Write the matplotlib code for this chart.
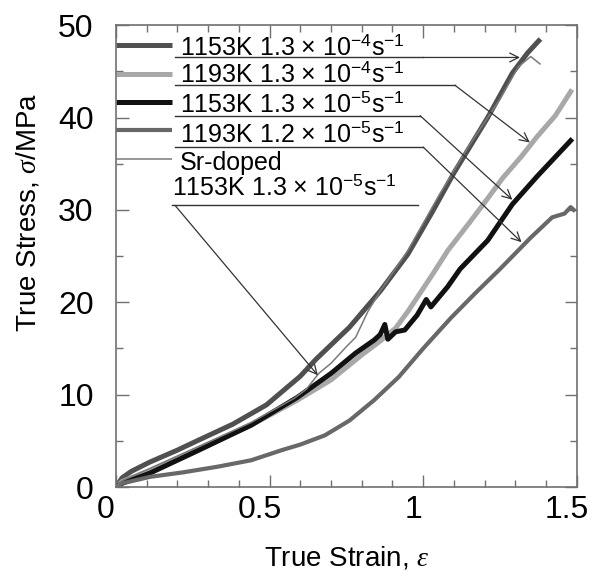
import matplotlib
matplotlib.use("Agg")
import matplotlib.pyplot as plt
import matplotlib.transforms as mtransforms
from matplotlib.ticker import MultipleLocator, FormatStrFormatter

plt.rcParams['font.family'] = ['Liberation Sans', 'DejaVu Sans']
plt.rcParams['mathtext.fontset'] = 'custom'
plt.rcParams['mathtext.rm'] = 'Liberation Sans'
plt.rcParams['mathtext.it'] = 'Liberation Serif:italic'
plt.rcParams['mathtext.bf'] = 'Liberation Sans:bold'

# true strain / true stress
strain_1153_4 = [0, 0.02, 0.05, 0.11, 0.20, 0.27, 0.38, 0.49, 0.60, 0.65, 0.76, 0.86, 0.95,
                 1.03, 1.10, 1.21, 1.29, 1.34, 1.376]
stress_1153_4 = [0, 1.0, 1.7, 2.7, 4.0, 5.1, 6.8, 8.9, 12.0, 13.8, 17.3, 21.2, 25.2,
                 29.8, 34.0, 40.0, 44.8, 47.0, 48.3]

strain_1193_4 = [0, 0.02, 0.11, 0.27, 0.44, 0.59, 0.70, 0.80, 0.86, 0.91, 0.95, 1.03, 1.08,
                 1.15, 1.20, 1.26, 1.32, 1.37, 1.43, 1.48]
stress_1193_4 = [0, 0.6, 1.8, 4.2, 6.7, 9.4, 11.6, 14.3, 15.8, 17.2, 19.0, 23.0, 25.6,
                 28.6, 30.8, 33.5, 35.8, 37.9, 40.2, 42.8]

strain_1153_5 = [0, 0.02, 0.11, 0.27, 0.44, 0.59, 0.70, 0.78, 0.84, 0.86, 0.875, 0.885, 0.91,
                 0.94, 0.98, 1.01, 1.025, 1.08, 1.12, 1.21, 1.29, 1.37, 1.48]
stress_1153_5 = [0, 0.4, 1.5, 4.0, 6.7, 9.7, 12.3, 14.5, 15.9, 16.5, 17.6, 16.0, 16.8,
                 17.0, 18.6, 20.3, 19.5, 21.7, 23.6, 26.7, 30.6, 33.6, 37.5]

strain_1193_5 = [0, 0.02, 0.11, 0.22, 0.33, 0.44, 0.54, 0.60, 0.68, 0.76, 0.84, 0.92, 1.00,
                 1.09, 1.17, 1.25, 1.35, 1.42, 1.46, 1.48, 1.49]
stress_1193_5 = [0, 0.4, 1.1, 1.6, 2.2, 2.9, 4.0, 4.6, 5.6, 7.2, 9.4, 11.9, 15.0,
                 18.3, 21.0, 23.6, 27.0, 29.2, 29.6, 30.3, 30.0]

strain_sr = [0, 0.02, 0.11, 0.27, 0.44, 0.58, 0.62, 0.66, 0.70, 0.75, 0.78, 0.82, 0.86,
             0.95, 1.05, 1.15, 1.25, 1.31, 1.35, 1.38]
stress_sr = [0, 0.7, 2.0, 4.4, 7.0, 9.6, 10.6, 12.3, 13.4, 15.2, 16.2, 19.0, 21.2,
             25.6, 31.5, 37.0, 42.0, 45.5, 46.6, 45.8]

labels = ['1153K 1.3 × 10$^{-4}$s$^{-1}$',
          '1193K 1.3 × 10$^{-4}$s$^{-1}$',
          '1153K 1.3 × 10$^{-5}$s$^{-1}$',
          '1193K 1.2 × 10$^{-5}$s$^{-1}$',
          'Sr-doped\n1153K 1.3 × 10$^{-5}$s$^{-1}$']

series = [(strain_1153_4, stress_1153_4, '#505050', 3.6),
          (strain_1193_4, stress_1193_4, '#a8a8a8', 3.6),
          (strain_1153_5, stress_1153_5, '#111111', 3.6),
          (strain_1193_5, stress_1193_5, '#686868', 3.0),
          (strain_sr, stress_sr, '#7a7a7a', 1.1)]

# hand-drawn legend layout: sample line y, text baseline y, underline y, corner x, arrow tip
sample_y = [47.9, 44.7, 41.7, 38.7, 35.5]
text_y = [46.8, 43.8, 40.6, 37.3, 31.6]
under_y = [46.5, 43.5, 40.2, 36.8, 30.5]
corner_x = [1.0, 1.103, 0.99, 1.0, 0.983]
tips = [(1.315, 46.5), (1.347, 37.3), (1.29, 31.1), (1.32, 26.5), (0.657, 12.1)]

fig = plt.figure(figsize=(6.04, 5.71), dpi=100)
ax = fig.add_axes([0.192, 0.147, 0.763, 0.809])

for x, y, c, lw in series:
    ax.plot(x, y, color=c, lw=lw, solid_joinstyle='round')

arrow_kw = dict(arrowstyle='->', color='#333333', lw=0.9, shrinkA=0, shrinkB=0,
                mutation_scale=16)
for i, lab in enumerate(labels):
    c, lw = series[i][2], series[i][3]
    ax.plot([0, 0.182], [sample_y[i], sample_y[i]], color=c, lw=lw, solid_capstyle='butt')
    if i < 4:
        ax.text(0.208, text_y[i], lab, fontsize=18, va='baseline', ha='left')
        ax.plot([0.192, corner_x[i]], [under_y[i], under_y[i]], color='#333333', lw=1.0)
        ax.annotate('', xy=tips[i], xytext=(corner_x[i], under_y[i]), arrowprops=arrow_kw)
    else:
        ax.text(0.208, 34.3, 'Sr-doped', fontsize=18, va='baseline', ha='left')
        ax.text(0.182, text_y[i], lab.split('\n')[1], fontsize=18, va='baseline', ha='left')
        ax.plot([0.182, corner_x[i]], [under_y[i], under_y[i]], color='#333333', lw=1.0)
        ax.annotate('', xy=tips[i], xytext=(0.192, under_y[i]), arrowprops=arrow_kw)

ax.set_xlim(0, 1.5)
ax.set_ylim(0, 50)
ax.xaxis.set_major_locator(MultipleLocator(0.5))
ax.xaxis.set_minor_locator(MultipleLocator(0.1))
ax.xaxis.set_major_formatter(FormatStrFormatter('%g'))
ax.yaxis.set_major_locator(MultipleLocator(10))
ax.yaxis.set_minor_locator(MultipleLocator(5))
ax.tick_params(which='both', direction='in', top=True, right=True, color='#707070')
ax.tick_params(which='major', length=9, width=1.0, labelsize=23)
ax.tick_params(axis='x', which='major', pad=6)
ax.tick_params(axis='y', which='major', pad=16)
ax.tick_params(which='minor', length=5, width=1.0)
for s in ax.spines.values():
    s.set_color('#707070')
    s.set_linewidth(1.2)

shift = mtransforms.ScaledTranslation(-0.10, 0, fig.dpi_scale_trans)
for lbl in ax.get_xticklabels():
    lbl.set_transform(lbl.get_transform() + shift)

ax.set_xlabel('True Strain, $\\varepsilon$', fontsize=20, labelpad=14)
ax.set_ylabel('True Stress, $\\sigma$/MPa', fontsize=20)
ax.yaxis.set_label_coords(-0.161, 0.595)

fig.savefig('out.png', dpi=100)
